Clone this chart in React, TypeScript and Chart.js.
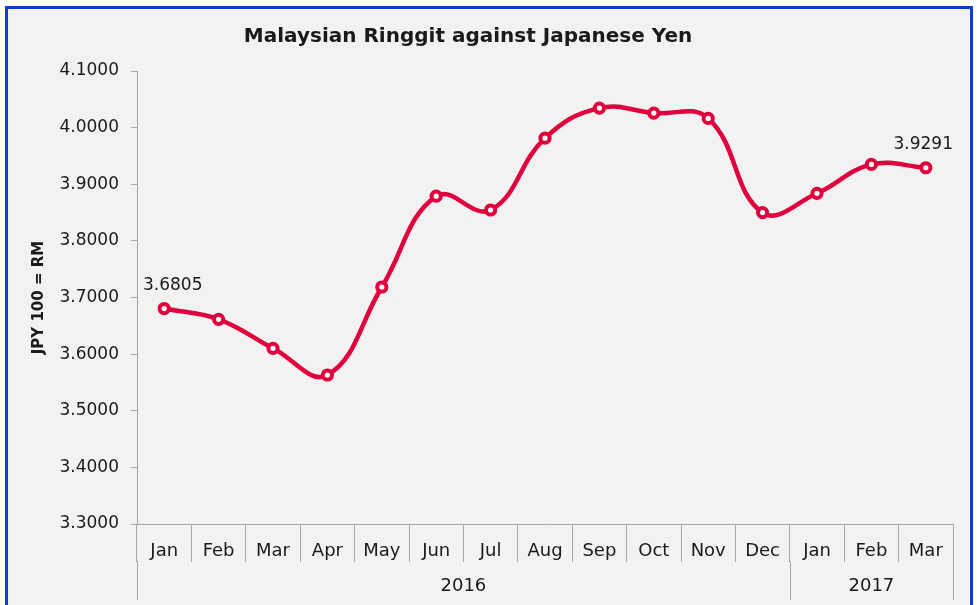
import React, { useEffect, useRef } from 'react';
import { Chart, registerables } from 'chart.js';

Chart.register(...registerables);

// ---- data ----
const months = ['Jan', 'Feb', 'Mar', 'Apr', 'May', 'Jun', 'Jul', 'Aug', 'Sep', 'Oct', 'Nov', 'Dec', 'Jan', 'Feb', 'Mar'];
const years = ['2016', '2017'];
const yearSpans = [12, 3];
const rates = [3.6805, 3.6615, 3.6103, 3.5631, 3.7185, 3.879, 3.8545, 3.9814, 4.0345, 4.0257, 4.0163, 3.85, 3.884, 3.935, 3.9291];
const labeledPoints = [0, 14];
const yMin = 3.3;
const yMax = 4.1;
const yStep = 0.1;
const chartTitle = 'Malaysian Ringgit against Japanese Yen';
const yTitle = 'JPY 100 = RM';

// ---- styles ----
const FONT = '"DejaVu Sans", sans-serif';
const TEXT = '#1a1a1a';
const AXIS = '#a6a6a6';
const LINE = '#e0003c';
const BG = '#f2f2f2';
const BORDER = '#0b40cc';
const MONTH_ROW = 38;
const YEAR_ROW = 38;

const decor = {
  id: 'decor',
  afterDraw(chart: any) {
    const { ctx, chartArea } = chart;
    const xs = chart.scales.x;
    ctx.save();
    // title
    ctx.fillStyle = TEXT;
    ctx.font = `bold 20px ${FONT}`;
    ctx.textAlign = 'center';
    ctx.textBaseline = 'alphabetic';
    ctx.fillText(chartTitle, 460, 33);

    // year row
    const top = chartArea.bottom + MONTH_ROW;
    const bottom = top + YEAR_ROW;
    ctx.strokeStyle = AXIS;
    ctx.lineWidth = 1;
    ctx.font = `18px ${FONT}`;
    ctx.textBaseline = 'middle';
    let start = 0;
    years.forEach((yr, i) => {
      const l = xs.getPixelForValue(start - 0.5);
      const r = xs.getPixelForValue(start + yearSpans[i] - 0.5);
      [l, r].forEach((px) => {
        const x = Math.round(px) + 0.5;
        ctx.beginPath();
        ctx.moveTo(x, top - 1);
        ctx.lineTo(x, bottom);
        ctx.stroke();
      });
      ctx.fillText(yr, (l + r) / 2, top + 24);
      start += yearSpans[i];
    });

    // data labels
    const meta = chart.getDatasetMeta(0);
    ctx.font = `17px ${FONT}`;
    labeledPoints.forEach((idx) => {
      const pt = meta.data[idx];
      const txt = rates[idx].toFixed(4);
      const hw = ctx.measureText(txt).width / 2;
      let x = pt.x;
      x = Math.max(x, chartArea.left + 6 + hw);
      x = Math.min(x, chartArea.right - hw);
      ctx.fillText(txt, x, pt.y - 23);
    });
    ctx.restore();
  },
};

export default function App() {
  const ref = useRef<HTMLCanvasElement>(null);
  useEffect(() => {
    if (!ref.current) return;
    Chart.defaults.font.family = FONT;
    const chart = new Chart(ref.current, {
      type: 'line',
      data: {
        labels: months,
        datasets: [
          {
            data: rates,
            borderColor: LINE,
            borderWidth: 4.5,
            backgroundColor: '#ffffff',
            pointBackgroundColor: '#ffffff',
            pointBorderColor: LINE,
            pointBorderWidth: 4,
            pointRadius: 4.6,
            tension: 0.42,
            fill: false,
          },
        ],
      },
      options: {
        responsive: false,
        animation: false,
        layout: { padding: { top: 62, right: 17, left: 0, bottom: 0 } },
        plugins: {
          legend: { display: false },
          title: { display: false },
          tooltip: { enabled: false },
        },
        scales: {
          x: {
            type: 'category',
            offset: true,
            grid: { offset: true, drawOnChartArea: false, drawTicks: true, tickLength: MONTH_ROW, color: AXIS },
            border: { color: AXIS, width: 1 },
            ticks: { color: TEXT, font: { size: 18 }, padding: -21, maxRotation: 0, autoSkip: false },
            afterFit: (s: any) => {
              s.height = 81;
            },
          },
          y: {
            min: yMin,
            max: yMax,
            grid: { drawOnChartArea: false, tickLength: 6, color: AXIS },
            border: { color: AXIS, width: 1 },
            ticks: {
              stepSize: yStep,
              color: TEXT,
              font: { size: 17 },
              padding: 12,
              callback: (v: any) => Number(v).toFixed(4),
            },
            title: {
              display: true,
              text: yTitle,
              color: TEXT,
              font: { size: 15, weight: 'bold' },
              padding: { top: 22, bottom: 0 },
            },
            afterFit: (s: any) => {
              s.width = 129;
            },
          },
        },
      } as any,
      plugins: [decor],
    });
    return () => chart.destroy();
  }, []);

  return (
    <div
      style={{
        position: 'fixed',
        left: 5,
        top: 6,
        width: 968,
        height: 640,
        border: `3px solid ${BORDER}`,
        boxSizing: 'border-box',
        background: BG,
        overflow: 'hidden',
      }}
    >
      <canvas ref={ref} width={962} height={596} style={{ display: 'block' }} />
    </div>
  );
}
